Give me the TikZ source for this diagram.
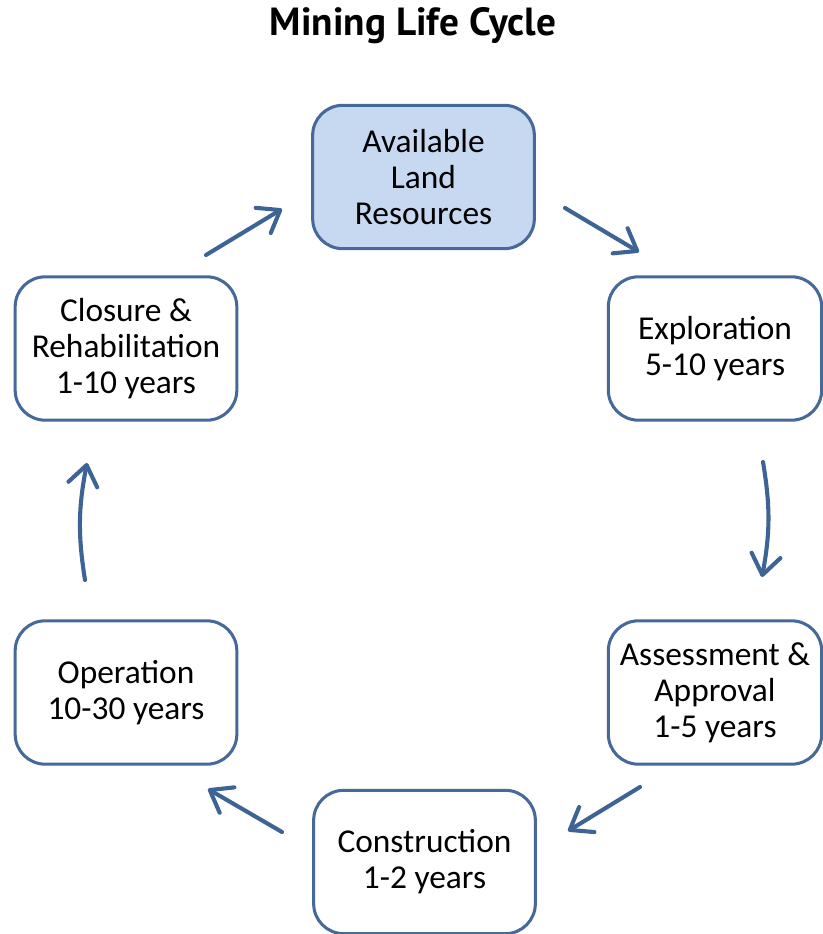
\documentclass[tikz,border=0pt]{standalone}
\usepackage{fontspec}
\setmainfont{Carlito}
\newfontfamily\titlefont{PT Sans}
\usepackage{tikz}
\usetikzlibrary{arrows.meta,calc,positioning}
\definecolor{stageline}{HTML}{46699A}
\definecolor{stagefill}{HTML}{C6D9F0}
\definecolor{cyclearrow}{HTML}{3D6494}

\begin{document}
\begin{tikzpicture}[x=0.03cm,y=-0.03cm]
					\useasboundingbox (0,0) rectangle (823,934);

					\edef\stagew{6.65cm}
					\edef\stageh{4.3cm}
					\tikzstyle{stage}=[draw=stageline,line width=2.6pt,rounded corners=0.9cm,fill=white,
						minimum width=\stagew,minimum height=\stageh,align=center,
						font=\fontsize{28.5}{30.8}\selectfont,inner sep=0pt]
					\tikzstyle{start}=[stage,fill=stagefill]
					\tikzstyle{cyc} = [draw=cyclearrow,line width=3.5pt,line cap=round,
						-{Straight Barb[length=17pt,width=25pt,line cap=round,line join=round]}]

					%% Title
					\node[font=\titlefont\bfseries\fontsize{33.5}{36}\selectfont] (title) at (413,26) {Mining Life Cycle};

					%% Stages
					\node [start] (land) at (423.5,177) {Available\\Land\\Resources};
					\node [stage,minimum width=6.4cm] (explore) at (715,348.5) {Exploration\\5-10 years};
					\node [stage,minimum width=6.4cm] (assess) at (715,692.5) {Assessment \&\\Approval\\1-5 years};
					\node [stage] (build) at (424.5,862) {Construction\\1-2 years};
					\node [stage] (operate) at (126,692.5) {Operation\\10-30 years};
					\node [stage] (closure) at (126,348.5) {Closure \&\\Rehabilitation\\1-10 years};

					%% Arrow ends
					\coordinate (a1) at (565,208);  \coordinate (b1) at (639,252);
					\coordinate (a2) at (763,462);  \coordinate (b2) at (762,577);
					\coordinate (a3) at (640,787);  \coordinate (b3) at (568,831);
					\coordinate (a4) at (282,832);  \coordinate (b4) at (208,789);
					\coordinate (a5) at (85,580);   \coordinate (b5) at (87,463);
					\coordinate (a6) at (206,255);  \coordinate (b6) at (282,209);

					%% Cycle
					\draw [cyc] (a1) -- (b1);
					\draw [cyc] (a2) to[bend left=10] (b2);
					\draw [cyc] (a3) -- (b3);
					\draw [cyc] (a4) -- (b4);
					\draw [cyc] (a5) to[bend left=10] (b5);
					\draw [cyc] (a6) -- (b6);

				\end{tikzpicture}
\end{document}
